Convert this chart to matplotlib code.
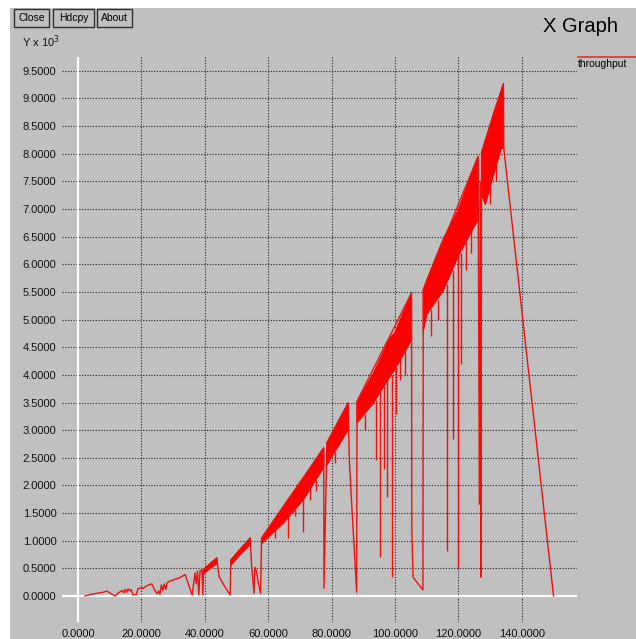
import numpy as np
import matplotlib
matplotlib.use('Agg')
import matplotlib.pyplot as plt
from matplotlib.patches import Rectangle

plt.rcParams['font.family'] = ['Liberation Sans', 'DejaVu Sans']

nan = np.nan

# main trace of the throughput line (x in seconds, y in units of 10^3)
trace_x = [2.2, 4.0, 6.0, 8.0, 9.1, 10.5, 11.7, 12.8, 13.9, 14.4, 14.9, 15.3, 15.8, 16.3, 16.7,
           17.4, 18.4, 18.9, 19.8, 20.6, 21.5, 22.4, 23.3, 24.1, 24.9, 25.4, 25.8, 26.3, 26.8,
           27.2, 27.7, 28.1, 29.0, 30.0, 31.0, 32.0, 33.0, 33.8, 34.8, 36.0, 36.9, 37.3, 37.7,
           38.1, 38.5, 39.1, 39.4, 39.6, 43.8, 44.5, 46.2, 48.0, 48.2, 54.3, 54.8, 55.5, 55.8,
           56.3, 56.9, 57.6, 57.9, 77.5, 77.6, 78.5, 85.2, 85.6, 86.1, 87.9, 88.0, 105.2, 105.3,
           105.7, 108.8, 108.9, 126.2, 126.6, 126.9, 127.1, 127.3, 134.2, 134.3, 150.0]
trace_y = [0.0, 0.03, 0.05, 0.07, 0.09, 0.04, 0.0, 0.06, 0.1, 0.06, 0.12, 0.07, 0.13, 0.09, 0.12,
           0.02, 0.03, 0.13, 0.15, 0.14, 0.18, 0.2, 0.22, 0.12, 0.04, 0.09, 0.03, 0.2, 0.1,
           0.22, 0.12, 0.24, 0.27, 0.29, 0.31, 0.33, 0.36, 0.39, 0.22, 0.02, 0.42, 0.22, 0.45,
           0.02, 0.46, 0.47, 0.02, 0.48, 0.69, 0.35, 0.18, 0.02, 0.65, 1.05, 0.53, 0.05, 0.52,
           0.45, 0.23, 0.05, 1.05, 2.68, 0.14, 2.77, 3.49, 2.45, 1.9, 0.07, 3.52, 5.48, 1.2,
           0.34, 0.11, 5.54, 7.95, 1.66, 7.5, 0.34, 8.02, 9.27, 8.1, 0.0]

# dense oscillating parts: upper and lower edges
band_x = [39.6, 41.5, 43.8, nan, 48.2, 51.0, 54.3, nan, 58.0, 64.8, 71.1, 77.0, 77.5, nan,
          78.5, 82.0, 85.2, nan, 88.0, 93.2, 98.4, 99.9, 105.2, nan,
          108.9, 110.0, 115.2, 120.0, 125.8, 126.2, nan, 127.3, 128.5, 131.0, 133.5, 134.2]
band_hi = [0.48, 0.58, 0.69, nan, 0.65, 0.84, 1.05, nan, 1.05, 1.62, 2.13, 2.64, 2.68, nan,
           2.77, 3.15, 3.49, nan, 3.52, 4.03, 4.67, 4.76, 5.48, nan,
           5.54, 5.72, 6.46, 6.99, 7.9, 7.95, nan, 8.02, 8.25, 8.72, 9.15, 9.27]
band_lo = [0.40, 0.49, 0.58, nan, 0.55, 0.74, 0.93, nan, 0.95, 1.32, 1.74, 2.28, 2.35, nan,
           2.37, 2.7, 3.0, nan, 3.13, 3.49, 3.97, 4.09, 4.63, nan,
           4.78, 5.09, 5.52, 6.15, 6.77, 6.8, nan, 7.27, 7.08, 7.6, 8.09, 8.1]

# sharp drops inside the bands
spike_x = [62.0, 66.3, 68.5, 71.1, 73.2, 75.0, 81.0, 90.5, 93.9, 95.3, 96.5, 97.6, 99.0, 100.2,
           101.5, 103.0, 111.5, 113.5, 116.3, 118.4, 120.0, 120.8, 122.5, 124.0, 130.0, 132.0]
spike_top = [1.20, 1.45, 1.60, 1.80, 1.95, 2.10, 2.60, 3.30, 3.55, 3.70, 3.80, 3.90, 4.00, 4.20,
             4.30, 4.45, 5.20, 5.35, 5.65, 5.90, 6.15, 6.20, 6.40, 6.60, 7.40, 7.80]
spike_bot = [1.05, 1.05, 1.45, 1.16, 1.74, 1.90, 2.40, 3.00, 2.46, 0.70, 2.30, 1.79, 0.34, 3.30,
             3.90, 4.00, 4.70, 5.00, 0.81, 2.84, 0.50, 4.20, 5.90, 6.20, 7.10, 7.50]

x_ticks = [0, 20, 40, 60, 80, 100, 120, 140]
y_ticks = [0.0, 0.5, 1.0, 1.5, 2.0, 2.5, 3.0, 3.5, 4.0, 4.5, 5.0, 5.5, 6.0, 6.5, 7.0, 7.5,
           8.0, 8.5, 9.0, 9.5]

W, H = 636, 639
bg = '#c0c0c0'
fig = plt.figure(figsize=(W / 100, H / 100), dpi=100, facecolor='white')

# window body
fig.patches.append(Rectangle((10 / W, 0), 1, (H - 8) / H, transform=fig.transFigure,
                             facecolor=bg, edgecolor='none', zorder=-5))

ax = fig.add_axes([62 / W, (H - 622) / H, (577 - 62) / W, (622 - 57) / H])
ax.set_zorder(2)
ax.set_facecolor(bg)
for s in ax.spines.values():
    s.set_visible(False)
ax.set_xlim(-5.05, 157.4)
ax.set_ylim(-0.47, 9.75)

# grid
for y in y_ticks[1:]:
    ax.axhline(y, color='#222222', lw=0.8, ls=(0, (1, 1.5)), zorder=1)
for x in x_ticks[1:]:
    ax.axvline(x, color='#222222', lw=0.8, ls=(0, (1, 1.5)), zorder=1)
ax.axhline(0, color='white', lw=1.6, zorder=1)
ax.axvline(0, color='white', lw=1.6, zorder=1)

ax.set_xticks(x_ticks)
ax.set_yticks(y_ticks)
ax.set_xticklabels([f'{v:.4f}' for v in x_ticks])
ax.set_yticklabels([f'{v:.4f}' for v in y_ticks])
ax.tick_params(length=0, labelsize=8, colors='#111111')
ax.tick_params(axis='x', pad=5)
ax.tick_params(axis='y', pad=4)

# data
ax.fill_between(band_x, band_lo, band_hi, color='#ff0000', lw=0.8, edgecolor='#ff0000', zorder=3)
ax.vlines(spike_x, spike_bot, spike_top, color='#f01010', lw=1.0, zorder=3)
ax.plot(trace_x, trace_y, color='#f01010', lw=1.0, zorder=4)

# texts and buttons
fig.text(543 / W, 1 - 26 / H, 'X Graph', fontsize=14.5, va='center', ha='left', color='black')
fig.text(22 / W, 1 - 47 / H, r'Y x 10$^3$', fontsize=8, va='baseline', ha='left', color='#111111')
fig.text(578 / W, 1 - 64 / H, 'throughput', fontsize=7.5, va='center', ha='left', color='black')
fig.lines.append(plt.Line2D([578 / W, 1], [1 - 57 / H, 1 - 57 / H], transform=fig.transFigure,
                            color='#e03030', lw=1.2))

for label, x0, x1 in [('Close', 14, 49), ('Hdcpy', 53, 94), ('About', 97, 132)]:
    fig.patches.append(Rectangle((x0 / W, 1 - 27 / H), (x1 - x0) / W, 18 / H,
                                 transform=fig.transFigure, facecolor=bg,
                                 edgecolor='#303030', lw=1.0, zorder=2))
    fig.text((x0 + x1) / 2 / W, 1 - 18 / H, label, fontsize=7.5, ha='center', va='center',
             color='black')

fig.savefig('out.png', dpi=100, facecolor=fig.get_facecolor())
